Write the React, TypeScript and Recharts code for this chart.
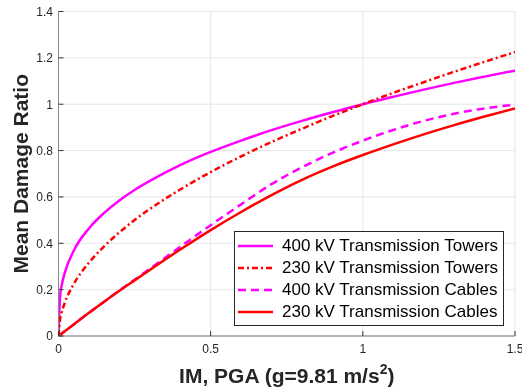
import React from "react";
import { LineChart, Line, XAxis, YAxis, CartesianGrid, Legend } from "recharts";

const xTowers = [0, 0.005, 0.01, 0.02, 0.05, 0.1, 0.15, 0.2, 0.25, 0.3, 0.4, 0.5, 0.6, 0.7, 0.8, 0.9, 1.0, 1.1, 1.2, 1.3, 1.4, 1.5];
const towers400 = [0, 0.17, 0.215, 0.27, 0.368, 0.464, 0.531, 0.585, 0.63, 0.669, 0.737, 0.794, 0.843, 0.888, 0.928, 0.965, 1.0, 1.032, 1.063, 1.092, 1.119, 1.145];
const towers230 = [0, 0.071, 0.1, 0.141, 0.224, 0.316, 0.387, 0.447, 0.5, 0.548, 0.632, 0.707, 0.775, 0.837, 0.894, 0.949, 1.0, 1.049, 1.095, 1.14, 1.183, 1.225];
const xCables = [0, 0.05, 0.1, 0.15, 0.2, 0.25, 0.3, 0.4, 0.5, 0.6, 0.7, 0.8, 0.9, 1.0, 1.1, 1.2, 1.3, 1.4, 1.5];
const cables400 = [0, 0.05, 0.1, 0.148, 0.196, 0.243, 0.29, 0.385, 0.478, 0.568, 0.655, 0.728, 0.79, 0.843, 0.889, 0.928, 0.959, 0.982, 0.998];
const cables230 = [0, 0.05, 0.1, 0.148, 0.195, 0.24, 0.285, 0.373, 0.457, 0.535, 0.608, 0.674, 0.731, 0.781, 0.827, 0.87, 0.91, 0.947, 0.982];

const seriesNames = ["400 kV Transmission Towers", "230 kV Transmission Towers", "400 kV Transmission Cables", "230 kV Transmission Cables"];
const xTicks = [0, 0.5, 1, 1.5];
const yTicks = [0, 0.2, 0.4, 0.6, 0.8, 1, 1.2, 1.4];
const xTitle = "IM, PGA (g=9.81 m/s";
const yTitle = "Mean Damage Ratio";

const FONT = "'Liberation Sans', Arial, Helvetica, sans-serif";
const MAGENTA = "#ff00ff";
const RED = "#ff0000";

const styles = [
  { color: MAGENTA, dash: undefined as string | undefined },
  { color: RED, dash: "6 3 2 3" },
  { color: MAGENTA, dash: "8 5" },
  { color: RED, dash: undefined as string | undefined },
];

const toData = (xs: number[], ys: number[]) => xs.map((x, i) => ({ x, y: ys[i] }));
const dataSets = [toData(xTowers, towers400), toData(xTowers, towers230), toData(xCables, cables400), toData(xCables, cables230)];

const fmt = (v: number) => String(Number(v.toFixed(2)));

const BottomTick = (p: any) => (
  <g>
    <line x1={p.x} x2={p.x} y1={p.y} y2={p.y - 5} stroke="#333" strokeWidth={1} />
    <text x={p.x} y={p.y + 16.7} textAnchor="middle" fontSize={12} fontFamily={FONT} fill="#262626">
      {fmt(p.payload.value)}
    </text>
  </g>
);
const LeftTick = (p: any) => (
  <g>
    <line x1={p.x} x2={p.x + 5} y1={p.y} y2={p.y} stroke="#333" strokeWidth={1} />
    <text x={p.x - 5.5} y={p.y} dy="0.36em" textAnchor="end" fontSize={12} fontFamily={FONT} fill="#262626">
      {fmt(p.payload.value)}
    </text>
  </g>
);
const TopTick = (p: any) => <line x1={p.x} x2={p.x} y1={p.y} y2={p.y + 5} stroke="#333" strokeWidth={1} />;
const RightTick = (p: any) => <line x1={p.x} x2={p.x - 5} y1={p.y} y2={p.y} stroke="#333" strokeWidth={1} />;

const XTitle = (props: any) => {
  const vb = props.viewBox;
  const cx = vb.x + vb.width / 2;
  return (
    <text x={cx} y={383.3} textAnchor="middle" fontSize={21} fontWeight="bold" fontFamily={FONT} fill="#262626">
      {xTitle}
      <tspan fontSize={14} dy={-9}>2</tspan>
      <tspan dy={9}>)</tspan>
    </text>
  );
};
const YTitle = (props: any) => {
  const vb = props.viewBox;
  const cy = vb.y + vb.height / 2;
  const cx = 20;
  return (
    <text x={cx} y={cy} textAnchor="middle" dominantBaseline="central" fontSize={21} fontWeight="bold" fontFamily={FONT} fill="#262626" transform={`rotate(-90, ${cx}, ${cy})`}>
      {yTitle}
    </text>
  );
};

const LegendBox = () => (
  <div style={{ border: "1px solid #262626", background: "#fff", width: 268, height: 90, padding: "3px 0 0 0", boxSizing: "content-box", fontFamily: FONT }}>
    {seriesNames.map((n, i) => (
      <div key={n} style={{ display: "flex", alignItems: "center", height: 22, lineHeight: "22px" }}>
        <svg width={47} height={22} style={{ display: "block" }}>
          <line x1={3} x2={38} y1={11} y2={11} stroke={styles[i].color} strokeWidth={2.5} strokeDasharray={styles[i].dash} />
        </svg>
        <span style={{ fontSize: 17, color: "#000", whiteSpace: "nowrap" }}>{n}</span>
      </div>
    ))}
  </div>
);

export default function App() {
  return (
    <div style={{ position: "fixed", left: 0, top: 0, width: 522, height: 392, overflow: "hidden" }}>
      <LineChart width={522} height={392} margin={{ top: 11.5, right: 7, bottom: 0, left: 0 }} style={{ overflow: "visible" }}>
        <CartesianGrid stroke="#e6e6e6" strokeWidth={1} />
        <XAxis dataKey="x" type="number" domain={[0, 1.5]} ticks={xTicks} interval={0} height={56} tickSize={0} tickMargin={0} tickLine={false} axisLine={{ stroke: "#777" }} tick={<BottomTick />} label={{ content: <XTitle /> } as any} allowDataOverflow />
        <XAxis xAxisId="top" orientation="top" type="number" domain={[0, 1.5]} ticks={xTicks} interval={0} height={0} tickSize={0} tickMargin={0} tickLine={false} axisLine={{ stroke: "#333" }} tick={<TopTick />} allowDataOverflow />
        <YAxis type="number" domain={[0, 1.4]} ticks={yTicks} interval={0} width={58.5} tickSize={0} tickMargin={0} tickLine={false} axisLine={{ stroke: "#888" }} tick={<LeftTick />} label={{ content: <YTitle /> } as any} />
        <YAxis yAxisId="right" orientation="right" type="number" domain={[0, 1.4]} ticks={yTicks} interval={0} width={0} tickSize={0} tickMargin={0} tickLine={false} axisLine={{ stroke: "#333" }} tick={<RightTick />} />
        {dataSets.map((d, i) => (
          <Line key={seriesNames[i]} data={d} dataKey="y" name={seriesNames[i]} type="monotone" stroke={styles[i].color} strokeWidth={2.5} strokeDasharray={styles[i].dash} dot={false} activeDot={false} isAnimationActive={false} />
        ))}
        <Legend layout="vertical" align="center" verticalAlign="middle" content={<LegendBox />} wrapperStyle={{ position: "absolute", left: 234, top: 231, right: "auto", bottom: "auto", width: "auto", height: "auto" }} />
      </LineChart>
    </div>
  );
}
